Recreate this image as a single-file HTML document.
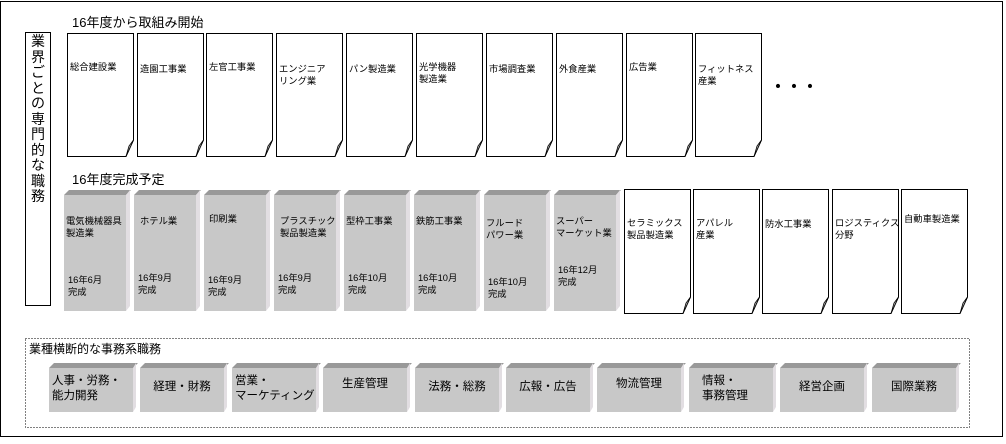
<!DOCTYPE html>
<html><head><meta charset="utf-8"><style>
body{margin:0;background:#fff}
svg text{font-family:"Liberation Sans","Noto Sans CJK JP",sans-serif;fill:#000}
</style></head><body>
<svg id="sv" width="1006" height="439" xmlns="http://www.w3.org/2000/svg">
<rect x="0.5" y="1.5" width="1002" height="435" fill="#fff" stroke="#000" stroke-width="1"/>
<rect x="25.5" y="32.5" width="25" height="273" fill="#fff" stroke="#000"/>
<g font-size="14">
<text x="31" y="46">業</text><text x="31" y="62">界</text><text x="31" y="77">ご</text><text x="31" y="93">と</text><text x="31" y="108">の</text><text x="31" y="124">専</text><text x="31" y="139">門</text><text x="31" y="155">的</text><text x="31" y="170">な</text><text x="31" y="186">職</text><text x="31" y="201">務</text>
</g>
<text x="72" y="27" font-size="13">16年度から取組み開始</text>
<text x="72" y="184" font-size="13">16年度完成予定</text>
<text x="770" y="92" font-size="16" font-weight="bold">・・・</text>
<rect x="25.5" y="338.5" width="944" height="89" fill="none" stroke="#000" stroke-dasharray="1,2"/>
<text x="29" y="353" font-size="12">業種横断的な事務系職務</text>
</svg>
<script>
(function(){
var ns='http://www.w3.org/2000/svg';
var sv=document.getElementById('sv');
function el(t,a){var e=document.createElementNS(ns,t);for(var k in a)e.setAttribute(k,a[k]);sv.appendChild(e);return e;}
function txt(x,y,lines,fs,lh){lines.forEach(function(l,i){var t=el('text',{x:x,y:y+i*lh,'font-size':fs});t.textContent=l;});}
function doc(x,y,w,h,lines,ty){
 el('path',{d:'M'+(x+.5)+','+(y+.5)+'H'+(x+w+.5)+'V'+(y+h-16)+'L'+(x+w-7)+','+(y+h+.5)+'H'+(x+.5)+'Z',fill:'#fff',stroke:'#000'});
 el('path',{d:'M'+(x+w-7)+','+(y+h+.5)+'L'+(x+w-4)+','+(y+h-10)+'L'+(x+w+.5)+','+(y+h-16)+'Z',fill:'#b8b8b8',stroke:'#000','stroke-width':'0.8'});
 txt(x+3,ty,lines,9.3,12);
}
var tops=[["総合建設業"],["造園工事業"],["左官工事業"],["エンジニア","リング業"],["パン製造業"],["光学機器","製造業"],["市場調査業"],["外食産業"],["広告業"],["フィットネス","産業"]];
var tys=[70,72,70,72,72,70,72,72,70,72];
var tx=[67,137,206,276,346,416,486,556,626,695];
tops.forEach(function(l,i){doc(tx[i],33,66,123,l,tys[i]);});
function box(x,y,w,h,b,sd){
 el('polygon',{points:x+','+y+' '+(x+b)+','+(y-b)+' '+(x+w+b)+','+(y-b)+' '+(x+w)+','+y,fill:'#999'});
 el('polygon',{points:(x+w)+','+y+' '+(x+w+sd)+','+(y-b)+' '+(x+w+sd)+','+(y+h-b)+' '+(x+w)+','+(y+h),fill:'#e2dee2'});
 el('rect',{x:x,y:y,width:w,height:h,fill:'#c8c8c8'});
}
var mid=[[["電気機械器具","製造業"],["16年6月","完成"]],[["ホテル業"],["16年9月","完成"]],[["印刷業"],["16年9月","完成"]],[["プラスチック","製品製造業"],["16年9月","完成"]],[["型枠工事業"],["16年10月","完成"]],[["鉄筋工事業"],["16年10月","完成"]],[["フルード","パワー業"],["16年10月","完成"]],[["スーパー","マーケット業"],["16年12月","完成"]]];
var dty=[283,281,283,281,281,281,285,273];
var lty=[224,224,222,224,224,224,226,224];
mid.forEach(function(m,i){var x=64+i*70;box(x,195,62,116,5,4);txt(x+2+(i==1||i==3?4:i==2?3:0),lty[i],m[0],9.3,12);txt(x+4,dty[i],m[1],9.3,12);});
var wd=[["セラミックス","製品製造業"],["アパレル","産業"],["防水工事業"],["ロジスティクス","分野"],["自動車製造業"]];
var wx=[624,693,762,832,901];
wd.forEach(function(l,i){doc(wx[i],189,66,124,l,i==4?222:i==2?227:226);});
var bt=[["人事・労務・","能力開発"],["経理・財務"],["営業・","マーケティング"],["生産管理"],["法務・総務"],["広報・広告"],["物流管理"],["情報・","事務管理"],["経営企画"],["国際業務"]];
bt.forEach(function(l,i){var x=Math.round(49+i*91.4);box(x,368,84,44,5,3);
 if(l.length==2){txt(x+3+(i==7?10:0),384,l,11.5,15);}else{var t=el('text',{x:x+42,y:(i==6||i==3)?387:390,'font-size':11.5,'text-anchor':'middle'});t.textContent=l[0];}
});
})();
</script>
</body></html>
